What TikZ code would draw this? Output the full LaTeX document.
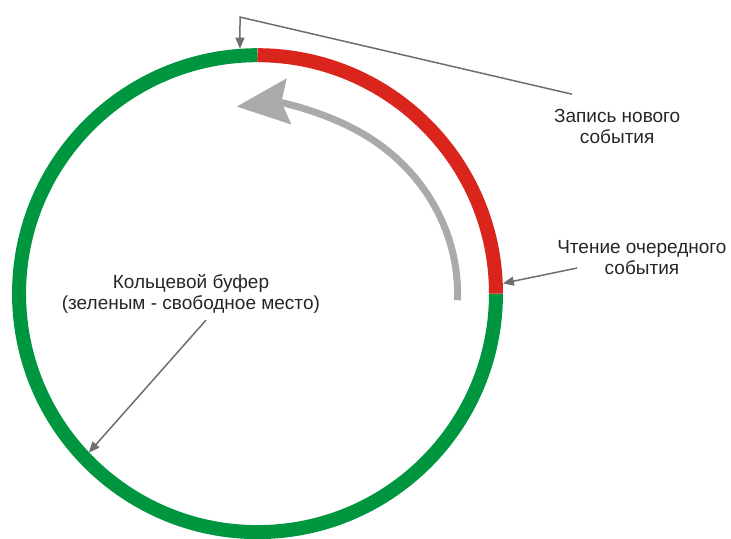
\documentclass[tikz,border=0pt]{standalone}
\usepackage{fontspec}
\setmainfont{Liberation Sans}
\usetikzlibrary{arrows.meta}
\definecolor{bufgreen}{RGB}{0,150,64}
\definecolor{bufred}{RGB}{218,37,29}
\definecolor{arcgray}{RGB}{170,170,170}
\definecolor{linegray}{RGB}{110,110,110}
\begin{document}
\begin{tikzpicture}[
  ring/.style={line width=14pt},
  pointer/.style={draw=linegray,line width=1.5pt,-{Triangle[length=11pt,width=9pt]}},
  note/.style={align=center,font=\fontsize{19}{21}\selectfont,text=black!85}
]
\useasboundingbox (-9.05,-8.59) rectangle (16.64,10.32);
\draw[ring,color=bufgreen] (90:8.38) arc (90:360:8.38);
\draw[ring,color=bufred] (0:8.38) arc (0:90:8.38);
\draw[color=arcgray,line width=7pt,-{Stealth[length=52pt,width=45pt,inset=7pt]}] (-2:7.03 and 6.61) arc[start angle=-2,end angle=96,x radius=7.03,y radius=6.61];
\node[note] (write) at (12.64,5.89) {Запись нового\\события};
\node[note] (read) at (13.51,1.28) {Чтение очередного\\события};
\node[note] (buffer) at (-2.34,-0.02) {Кольцевой буфер\\(зеленым - свободное место)};
\coordinate (writefrom) at (11.05,7.01);
\coordinate (writebend) at (-0.615,9.72);
\coordinate (writeto) at (94.1:8.63);
\coordinate (readfrom) at (11.23,0.9);
\coordinate (readto) at (2.4:8.63);
\coordinate (bufferfrom) at (-1.81,-0.93);
\coordinate (bufferto) at (223.3:8.15);
\draw[pointer] (writefrom) -- (writebend) -- (writeto);
\draw[pointer] (readfrom) -- (readto);
\draw[pointer] (bufferfrom) -- (bufferto);
\end{tikzpicture}
\end{document}
